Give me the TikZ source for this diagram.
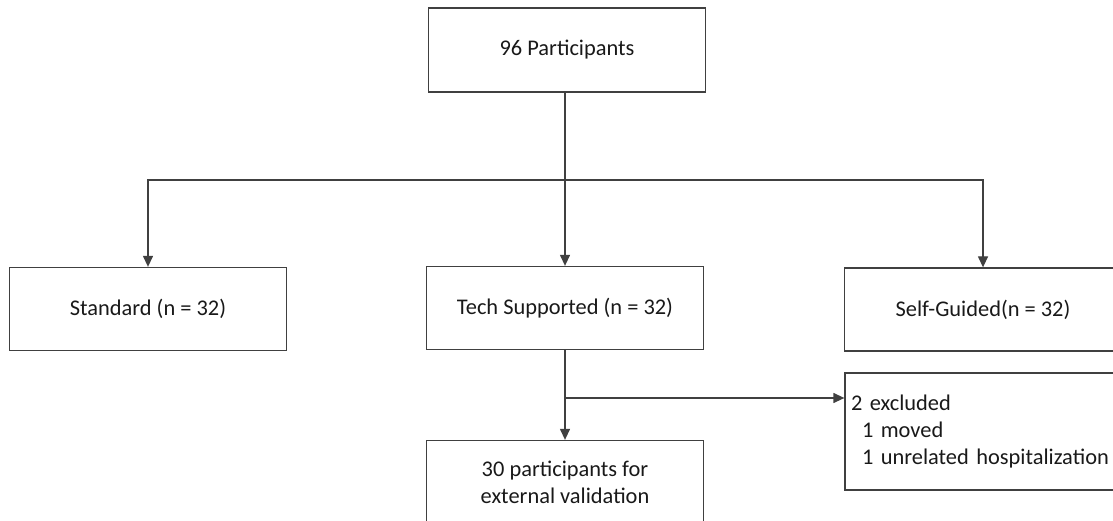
\documentclass[tikz,border=0pt]{standalone}
\usepackage{fontspec}
\setmainfont{Carlito}
\usepackage{tikz}
\usetikzlibrary{arrows.meta,positioning,calc}
\definecolor{boxline}{HTML}{404040}
\tikzset{
  groupbox/.style={draw=boxline,line width=1.3pt,align=center,text=black!90,
    minimum width=277pt,minimum height=83pt,font=\fontsize{22.4}{27.3}\selectfont},
  flowarrow/.style={-{Triangle[length=11pt,width=10pt]},line width=1.3pt,draw=boxline},
  flowline/.style={line width=1.3pt,draw=boxline}
}
\begin{document}
\begin{tikzpicture}[x=1pt,y=-1pt]
  \path[use as bounding box,clip] (0,0) rectangle (1113,521);
  \node[groupbox,minimum height=84pt] (all) at (567,50) {96 Participants};
  \node[groupbox] (std) at (148,309) {Standard (n = 32)};
  \node[groupbox] (tech) at (565,308) {Tech Supported (n = 32)};
  \node[groupbox] (self) at (983,309.5) {Self-Guided(n = 32)};
  \node[groupbox] (valid) at (565,482) {30 participants for\\external validation};
  \node[groupbox,minimum height=117pt,text width=266pt,align=left,inner sep=6pt]
    (excl) at (984,431.5) {2 excluded\\\hspace*{11pt}1 moved\\\hspace*{11pt}1 unrelated hospitalization};
  \coordinate (split) at (565,180);
  \coordinate (exclsplit) at (565,398);
  % allocation
  \draw[flowline] (all.south -| split) -- (split);
  \draw[flowarrow] (split) -| (std.north);
  \draw[flowarrow] (split) -| (self.north);
  \draw[flowarrow] (split) -- (tech);
  % follow-up
  \draw[flowarrow] (tech) -- (valid);
  \draw[flowarrow] (exclsplit) -- (excl.west |- exclsplit);
\end{tikzpicture}
\end{document}
